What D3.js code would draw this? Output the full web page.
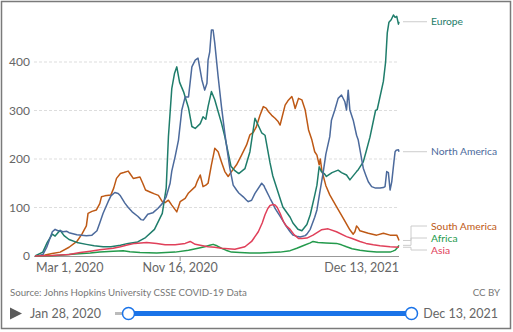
<!DOCTYPE html>
<meta charset="utf-8">
<style>
body { margin: 0; background: #fff; }
text { font-family: Lato, 'Open Sans', sans-serif; }
.grid line { stroke: #ddd; stroke-dasharray: 3,2; }
.ytick { font-size: 12px; fill: #666; }
.xtick { font-size: 12.5px; fill: #666; }
.series { fill: none; stroke-width: 1.5; stroke-linejoin: round; }
.lab { font-size: 10.3px; }
.leader { fill: none; stroke: #ccc; stroke-width: 1; }
.foot { font-size: 9.7px; fill: #777; }
.slider { font-size: 12.5px; fill: #666; }
</style>
<svg width="513" height="332"></svg>
<script src="https://cdnjs.cloudflare.com/ajax/libs/d3/7.8.5/d3.min.js"></script>
<script>

// daily new cases per million, 7-day avg
var continents = ["Europe", "North America", "South America", "Africa", "Asia"];
var colors = ["#1f7d6b", "#4c6a9c", "#be5915", "#249a4c", "#e0405a"];

var europe = [["2020-03-01",0],["2020-03-15",8],["2020-03-23",28],["2020-04-01",45],["2020-04-06",41],["2020-04-15",53],["2020-04-22",42],["2020-05-01",34],["2020-05-15",28],["2020-06-01",24],["2020-06-15",21],["2020-07-01",19],["2020-07-15",19],["2020-08-01",22],["2020-08-15",26],["2020-09-01",29],["2020-09-15",38],["2020-10-01",55],["2020-10-15",88],["2020-10-22",140],["2020-10-26",246],["2020-11-01",345],["2020-11-06",377],["2020-11-10",390],["2020-11-15",358],["2020-11-22",339],["2020-12-01",305],["2020-12-07",267],["2020-12-13",263],["2020-12-22",273],["2020-12-27",287],["2021-01-01",282],["2021-01-05",308],["2021-01-11",339],["2021-01-17",322],["2021-01-23",298],["2021-01-29",274],["2021-02-04",246],["2021-02-15",185],["2021-02-22",176],["2021-03-01",170],["2021-03-12",180],["2021-03-21",215],["2021-03-30",284],["2021-04-11",254],["2021-04-17",249],["2021-04-26",192],["2021-05-01",165],["2021-05-15",115],["2021-05-19",101],["2021-06-01",80],["2021-06-06",68],["2021-06-15",55],["2021-06-22",52],["2021-07-01",65],["2021-07-07",85],["2021-07-15",125],["2021-07-19",146],["2021-07-23",184],["2021-07-27",174],["2021-08-01",170],["2021-08-05",164],["2021-08-15",172],["2021-08-26",177],["2021-09-01",172],["2021-09-10",167],["2021-09-16",157],["2021-09-28",174],["2021-10-01",178],["2021-10-10",194],["2021-10-15",215],["2021-10-22",245],["2021-11-01",300],["2021-11-04",302],["2021-11-15",360],["2021-11-19",400],["2021-11-22",460],["2021-11-25",482],["2021-11-29",487],["2021-12-03",497],["2021-12-06",492],["2021-12-09",494],["2021-12-12",478],["2021-12-13",483]];

var northAmerica = [["2020-03-01",0],["2020-03-10",1],["2020-03-15",3],["2020-03-22",18],["2020-03-28",37],["2020-04-01",50],["2020-04-06",55],["2020-04-11",52],["2020-04-15",52],["2020-04-20",50],["2020-04-27",51],["2020-05-01",48],["2020-05-15",44],["2020-06-01",42],["2020-06-11",43],["2020-06-20",52],["2020-06-25",68],["2020-07-01",88],["2020-07-10",112],["2020-07-15",124],["2020-07-22",131],["2020-07-28",129],["2020-08-01",124],["2020-08-09",109],["2020-08-15",100],["2020-08-22",91],["2020-09-01",82],["2020-09-07",75],["2020-09-11",74],["2020-09-15",80],["2020-09-19",86],["2020-09-28",89],["2020-10-01",92],["2020-10-07",98],["2020-10-15",108],["2020-10-22",122],["2020-10-29",150],["2020-11-01",175],["2020-11-07",205],["2020-11-13",239],["2020-11-15",260],["2020-11-19",301],["2020-11-25",328],["2020-12-01",328],["2020-12-07",390],["2020-12-13",404],["2020-12-18",408],["2020-12-25",363],["2020-12-30",342],["2021-01-03",356],["2021-01-05",404],["2021-01-08",421],["2021-01-11",466],["2021-01-14",466],["2021-01-17",439],["2021-01-23",370],["2021-01-29",308],["2021-02-04",253],["2021-02-07",228],["2021-02-13",181],["2021-02-19",146],["2021-02-25",136],["2021-03-01",130],["2021-03-09",122],["2021-03-15",115],["2021-03-18",112],["2021-03-24",115],["2021-03-30",129],["2021-04-11",150],["2021-04-15",145],["2021-04-17",140],["2021-04-26",119],["2021-05-01",108],["2021-05-05",98],["2021-05-15",80],["2021-05-23",65],["2021-06-01",50],["2021-06-06",43],["2021-06-15",40],["2021-06-19",39],["2021-06-28",42],["2021-07-01",45],["2021-07-07",55],["2021-07-15",80],["2021-07-19",95],["2021-07-24",130],["2021-07-30",171],["2021-08-04",210],["2021-08-11",246],["2021-08-14",280],["2021-08-20",301],["2021-08-26",325],["2021-09-01",332],["2021-09-07",318],["2021-09-10",301],["2021-09-13",342],["2021-09-16",301],["2021-09-22",280],["2021-09-28",249],["2021-10-01",239],["2021-10-10",181],["2021-10-15",165],["2021-10-19",153],["2021-10-25",143],["2021-11-01",140],["2021-11-09",140],["2021-11-15",141],["2021-11-18",143],["2021-11-21",174],["2021-11-24",172],["2021-11-27",136],["2021-11-30",153],["2021-12-04",195],["2021-12-06",215],["2021-12-08",218],["2021-12-12",219],["2021-12-13",215]];

var southAmerica = [["2020-03-01",0],["2020-03-19",2],["2020-04-01",5],["2020-04-15",8],["2020-05-01",18],["2020-05-15",30],["2020-05-24",45],["2020-06-01",62],["2020-06-04",88],["2020-06-11",92],["2020-06-19",95],["2020-06-25",108],["2020-06-28",122],["2020-07-04",124],["2020-07-15",126],["2020-07-20",140],["2020-07-25",160],["2020-08-01",170],["2020-08-07",172],["2020-08-15",175],["2020-08-18",170],["2020-08-24",160],["2020-09-01",162],["2020-09-05",163],["2020-09-10",150],["2020-09-15",136],["2020-09-23",132],["2020-10-01",128],["2020-10-08",125],["2020-10-15",112],["2020-10-20",110],["2020-10-26",115],["2020-11-01",105],["2020-11-10",91],["2020-11-16",112],["2020-11-25",119],["2020-12-01",130],["2020-12-13",143],["2020-12-17",155],["2020-12-22",167],["2020-12-27",143],["2021-01-01",146],["2021-01-05",150],["2021-01-11",188],["2021-01-15",210],["2021-01-17",222],["2021-01-23",215],["2021-01-29",194],["2021-02-04",174],["2021-02-10",164],["2021-02-16",174],["2021-02-25",188],["2021-03-06",208],["2021-03-15",229],["2021-03-21",250],["2021-03-27",255],["2021-04-01",265],["2021-04-08",290],["2021-04-14",308],["2021-04-19",305],["2021-04-23",298],["2021-04-29",290],["2021-05-05",284],["2021-05-10",278],["2021-05-14",270],["2021-05-23",311],["2021-05-28",320],["2021-06-04",329],["2021-06-06",322],["2021-06-10",304],["2021-06-16",325],["2021-06-22",322],["2021-06-24",315],["2021-06-28",301],["2021-07-04",260],["2021-07-10",239],["2021-07-15",215],["2021-07-19",208],["2021-07-23",188],["2021-07-25",200],["2021-07-28",175],["2021-08-04",145],["2021-08-11",126],["2021-08-23",102],["2021-09-04",78],["2021-09-16",54],["2021-09-22",45],["2021-09-25",50],["2021-09-28",62],["2021-10-01",58],["2021-10-04",52],["2021-10-10",50],["2021-10-19",47],["2021-11-03",43],["2021-11-15",47],["2021-11-27",43],["2021-12-09",43],["2021-12-11",38],["2021-12-13",32]];

var africa = [["2020-03-01",0],["2020-04-01",0.5],["2020-04-20",2],["2020-05-12",4],["2020-06-08",6],["2020-06-25",8],["2020-07-19",10],["2020-08-06",11],["2020-08-18",9],["2020-09-05",7],["2020-10-05",6],["2020-11-07",8],["2020-12-01",12],["2020-12-18",16],["2020-12-30",19],["2021-01-08",22],["2021-01-14",24],["2021-01-21",21],["2021-01-29",16],["2021-02-06",12],["2021-02-16",8],["2021-03-03",7],["2021-03-21",6],["2021-04-08",6],["2021-04-26",7],["2021-05-14",8],["2021-06-01",11],["2021-06-13",16],["2021-06-24",21],["2021-07-07",27],["2021-07-12",30],["2021-07-21",28],["2021-08-04",27],["2021-08-23",26],["2021-09-01",23],["2021-09-10",19],["2021-09-20",15],["2021-10-04",12],["2021-10-18",10],["2021-11-03",8],["2021-11-27",8],["2021-12-02",10],["2021-12-06",12],["2021-12-10",17],["2021-12-13",22]];

var asia = [["2020-03-01",0],["2020-04-01",1],["2020-04-15",2],["2020-05-01",3],["2020-05-21",7],["2020-06-08",10],["2020-06-25",13],["2020-07-19",16],["2020-08-01",19],["2020-08-15",23],["2020-08-27",26],["2020-09-17",28],["2020-10-05",26],["2020-10-20",23],["2020-11-07",23],["2020-11-25",26],["2020-12-04",30],["2020-12-13",24],["2020-12-22",22],["2021-01-05",19],["2021-01-17",18],["2021-01-29",16],["2021-02-22",14],["2021-03-12",19],["2021-03-24",30],["2021-04-05",50],["2021-04-12",68],["2021-04-17",85],["2021-04-22",98],["2021-04-26",104],["2021-05-01",106],["2021-05-05",105],["2021-05-09",100],["2021-05-14",88],["2021-05-20",71],["2021-05-25",62],["2021-06-01",55],["2021-06-08",44],["2021-06-16",36],["2021-06-22",36],["2021-07-01",37],["2021-07-12",43],["2021-07-27",54],["2021-08-08",56],["2021-08-23",50],["2021-09-10",40],["2021-09-20",36],["2021-10-04",30],["2021-10-15",26],["2021-10-28",23],["2021-11-09",21],["2021-11-27",19],["2021-12-13",18]];

var yTicks = [0, 100, 200, 300, 400];
var xTickDates = ["2020-03-01", "2020-11-16", "2021-12-13"];
var xTickLabels = ["Mar 1, 2020", "Nov 16, 2020", "Dec 13, 2021"];
var startLabel = "Jan 28, 2020", endLabel = "Dec 13, 2021";

var parse = d3.timeParse("%Y-%m-%d");
var seriesData = [europe, northAmerica, southAmerica, africa, asia].map(function(s) {
  return s.map(function(d) { return {date: parse(d[0]), value: d[1]}; });
});

var svg = d3.select("svg");

svg.append("rect")
  .attr("x", 1.5).attr("y", 1.5).attr("width", 509).attr("height", 327)
  .attr("fill", "#fff").attr("stroke", "#7a7a7a").attr("stroke-width", 1.5);

var x = d3.scaleTime().domain([parse("2020-03-01"), parse("2021-12-13")]).range([35, 399]);
var y = d3.scaleLinear().domain([0, 400]).range([256, 62]);

// grid
var grid = svg.append("g").attr("class", "grid");
grid.selectAll("line").data(yTicks.filter(function(t) { return t > 0; }))
  .enter().append("line")
  .attr("x1", 34).attr("x2", 399)
  .attr("y1", function(d) { return y(d); }).attr("y2", function(d) { return y(d); });

svg.selectAll(".ytick").data(yTicks).enter().append("text")
  .attr("class", "ytick")
  .attr("x", 30).attr("y", function(d) { return y(d); })
  .attr("dy", "0.35em").attr("text-anchor", "end")
  .text(function(d) { return d; });

// x axis
svg.append("line").attr("x1", 34).attr("x2", 399).attr("y1", 256.5).attr("y2", 256.5)
  .attr("stroke", "#999").attr("stroke-width", 1);

xTickDates.forEach(function(d, i) {
  var px = x(parse(d));
  var anchor = i == 0 ? "start" : (i == xTickDates.length - 1 ? "end" : "middle");
  if (anchor == "middle") {
    svg.append("line").attr("x1", px).attr("x2", px).attr("y1", 257).attr("y2", 261)
      .attr("stroke", "#999");
  }
  svg.append("text").attr("class", "xtick")
    .attr("x", i == 0 ? 36 : px).attr("y", 268).attr("dy", "0.35em")
    .attr("text-anchor", anchor).text(xTickLabels[i]);
});

// lines
var line = d3.line()
  .x(function(d) { return x(d.date); })
  .y(function(d) { return y(d.value); });

// draw in an order so the low series sit on top
[2, 0, 1, 3, 4].forEach(function(i) {
  svg.append("path").attr("class", "series")
    .attr("d", line(seriesData[i]))
    .attr("stroke", colors[i]);
});

// end labels with simple collision avoidance
var labels = continents.map(function(name, i) {
  var last = seriesData[i][seriesData[i].length - 1];
  return {name: name, color: colors[i], endY: y(last.value), ly: y(last.value)};
}).sort(function(a, b) { return a.endY - b.endY; });

var gap = 12, maxY = 250;
for (var i = 1; i < labels.length; i++) {
  if (labels[i].ly < labels[i - 1].ly + gap) labels[i].ly = labels[i - 1].ly + gap;
}
if (labels[labels.length - 1].ly > maxY) {
  labels[labels.length - 1].ly = maxY;
  for (var i = labels.length - 2; i >= 0; i--) {
    if (labels[i].ly > labels[i + 1].ly - gap) labels[i].ly = labels[i + 1].ly - gap;
  }
}

labels.forEach(function(l) {
  var pts = Math.abs(l.ly - l.endY) < 1
    ? [[403, l.ly], [427, l.ly]]
    : [[403, l.endY], [411, l.endY], [411, l.ly], [427, l.ly]];
  svg.append("path").attr("class", "leader").attr("d", d3.line()(pts));
  svg.append("text").attr("class", "lab")
    .attr("x", 431).attr("y", l.ly).attr("dy", "0.35em")
    .attr("fill", l.color).text(l.name);
});

// footer
svg.append("text").attr("class", "foot").attr("x", 10).attr("y", 293).attr("dy", "0.35em")
  .text("Source: Johns Hopkins University CSSE COVID-19 Data");
svg.append("text").attr("class", "foot").attr("x", 500).attr("y", 293).attr("dy", "0.35em")
  .attr("text-anchor", "end").text("CC BY");

// timeline slider
svg.append("path").attr("d", "M10,307.5L22,313.5L10,319.5Z").attr("fill", "#5b5b5b");
svg.append("text").attr("class", "slider").attr("x", 30).attr("y", 313.5).attr("dy", "0.35em")
  .text(startLabel);
svg.append("line").attr("x1", 115).attr("x2", 128).attr("y1", 313.5).attr("y2", 313.5)
  .attr("stroke", "#bbb").attr("stroke-width", 3);
svg.append("line").attr("x1", 128).attr("x2", 411).attr("y1", 313.5).attr("y2", 313.5)
  .attr("stroke", "#1a73e8").attr("stroke-width", 5);
[128.5, 411.5].forEach(function(cx) {
  svg.append("circle").attr("cx", cx).attr("cy", 313.5).attr("r", 6)
    .attr("fill", "#fff").attr("stroke", "#1a73e8").attr("stroke-width", 1.5);
});
svg.append("text").attr("class", "slider").attr("x", 498).attr("y", 313.5).attr("dy", "0.35em")
  .attr("text-anchor", "end").text(endLabel);

</script>
